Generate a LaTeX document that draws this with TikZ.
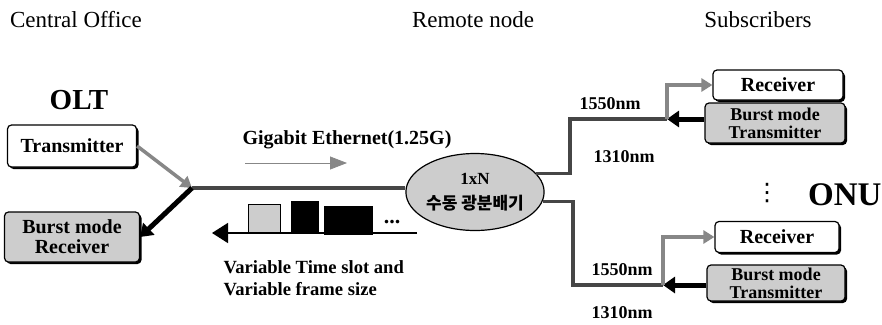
\documentclass[tikz,border=0pt]{standalone}
\usepackage{fontspec}
\setmainfont{Liberation Serif}
\newfontfamily\korfont{Noto Sans CJK KR}
\newfontfamily\symfont{DejaVu Sans}
\usepackage{tikz}
\usetikzlibrary{positioning,arrows.meta,shapes.geometric,shadows}
\definecolor{fibergray}{RGB}{70,70,70}
\definecolor{armgray}{RGB}{135,135,135}
\definecolor{boxfill}{RGB}{205,205,205}
\tikzset{
  unit/.style    = {draw, rounded corners=4pt, line width=1.2pt, align=center, inner sep=0pt,
                    font=\bfseries\fontsize{20}{17}\selectfont, fill=white,
                    drop shadow={shadow xshift=2pt, shadow yshift=-2pt, fill=black, opacity=1}},
  burst/.style   = {unit, fill=boxfill, font=\bfseries\fontsize{18}{18}\selectfont},
  head/.style    = {font=\fontsize{23}{25}\selectfont},
  nm/.style      = {font=\bfseries\fontsize{18}{18}\selectfont},
  fiber/.style   = {line width=3.5pt, draw=fibergray},
  down/.style    = {-{Triangle[length=11pt,width=13pt]}, line width=3.5pt, draw=armgray},
  up/.style      = {-{Triangle[length=12pt,width=16pt]}, line width=5pt, draw=black},
  slot/.style    = {draw, line width=1pt, inner sep=0pt, anchor=south west},
}

\begin{document}
\begin{tikzpicture}[x=1pt,y=-1pt]
  \useasboundingbox (0,0) rectangle (882,324);
  % column headings
  \node[head] (co)   at (76,20)  {Central Office};
  \node[head] (rn)   at (473,20) {Remote node};
  \node[head] (subs) at (758,20) {Subscribers};

  % OLT side
  \node[font=\bfseries\fontsize{29}{30}\selectfont] (olt) at (79,100) {OLT};
  \node[unit, minimum width=129pt, minimum height=42pt] (tx) at (72,146) {Transmitter};
  \node[burst, minimum width=135pt, minimum height=50pt, font=\bfseries\fontsize{20}{20}\selectfont]
        (brx) at (72,237) {Burst mode\\Receiver};
  \coordinate (jo) at (192,188);

  % splitter
  \node[ellipse, draw, line width=1.2pt, fill=boxfill, minimum width=124pt, minimum height=77pt,
        inner sep=0pt, align=center, font=\bfseries\fontsize{17}{25}\selectfont] (split) at (475,192)
        {1xN\\{\korfont\bfseries 수동 광분배기}};

  \draw[fiber] (jo) -- (jo -| split.west);
  \draw[down] (tx.east) -- (jo);
  \draw[up] (jo) -- (brx.east);

  % downstream / upstream traffic
  \node[font=\bfseries\fontsize{20}{22}\selectfont] (gbe) at (347,140) {Gigabit Ethernet(1.25G)};
  \coordinate (dsa) at (245,163);
  \coordinate (dsb) at (347,163);
  \draw[-{Triangle[length=17pt,width=13pt]}, line width=0.8pt, draw=armgray, fill=armgray] (dsa) -- (dsb);

  \node[slot, fill=boxfill, minimum width=32pt, minimum height=28pt] (s1) at (248,233) {};
  \node[slot, fill=black, minimum width=27pt, minimum height=31pt] (s2) at (291,233) {};
  \node[slot, fill=black, minimum width=48pt, minimum height=28pt] (s3) at (324,235) {};
  \node[font=\bfseries\fontsize{22}{22}\selectfont] (more) at (392,222) {...};
  \coordinate (usa) at (417,233);
  \coordinate (usb) at (212,233);
  \draw[-{Triangle[length=16pt,width=20pt]}, line width=1.5pt] (usa) -- (usb);
  \node[font=\bfseries\fontsize{18.6}{22}\selectfont, align=left, anchor=north west] (vts) at (220,257)
        {Variable Time slot and\\Variable frame size};

  % upper ONU
  \node[unit, minimum width=130pt, minimum height=30pt] (rxu) at (778,85) {Receiver};
  \node[burst, minimum width=140pt, minimum height=40pt] (txu) at (775,123) {Burst mode\\Transmitter};
  \coordinate (bu) at (570,119);
  \coordinate (ju) at (667,119);
  \draw[fiber] (split.17) -| (bu) -- (ju);
  \draw[up] (txu.west |- ju) -- (ju);
  \draw[down] (ju) |- (rxu.west);
  \node[nm] (l1) at (610,104) {1550nm};
  \node[nm] (l2) at (624,157) {1310nm};

  % lower ONU
  \node[unit, minimum width=124pt, minimum height=31pt] (rxl) at (777,237) {Receiver};
  \node[burst, minimum width=138pt, minimum height=36pt] (txl) at (776,283) {Burst mode\\Transmitter};
  \coordinate (bl) at (573,285);
  \coordinate (jl) at (663,285);
  \draw[fiber] (split.-8) -| (bl) -- (jl);
  \draw[up] (txl.west |- jl) -- (jl);
  \draw[down] (jl) |- (rxl.west);
  \node[nm] (l3) at (622,270) {1550nm};
  \node[nm] (l4) at (622,313) {1310nm};

  \node[font=\symfont\fontsize{24}{24}\selectfont] (vd) at (767,193) {⋮};
  \node[font=\bfseries\fontsize{33}{33}\selectfont, anchor=east] (onu) at (885,195) {ONU};
\end{tikzpicture}
\end{document}
